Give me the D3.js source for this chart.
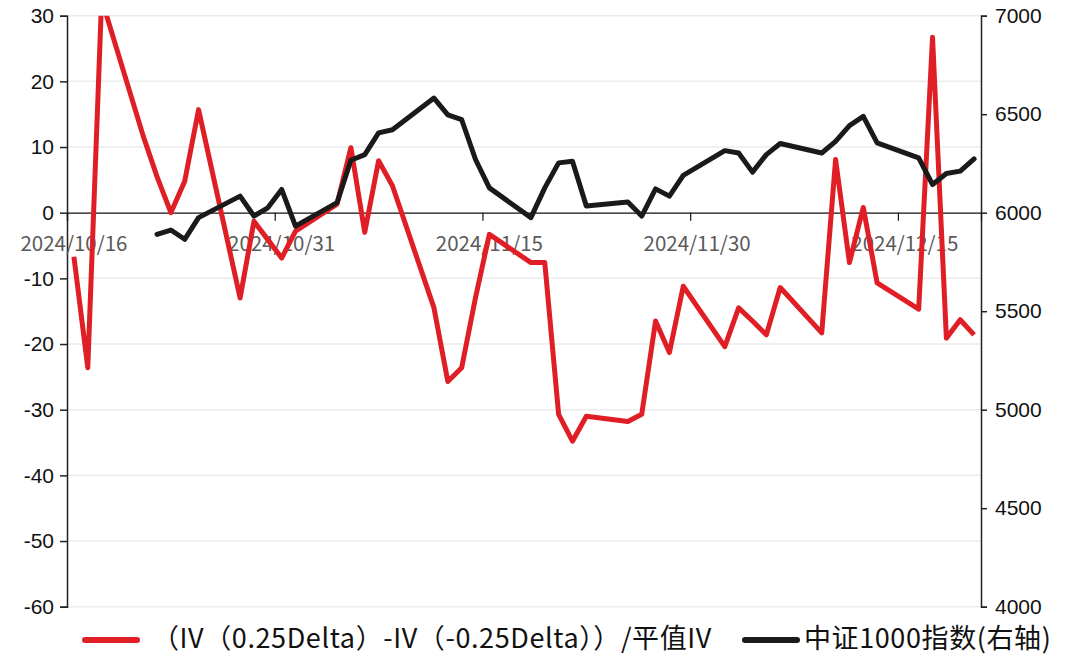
<!DOCTYPE html>
<html>
<head>
<meta charset="utf-8">
<script src="https://cdn.jsdelivr.net/npm/d3@7"></script>
<style>
  body { margin: 0; background: #fff; }
  svg { display: block; font-family: "Noto Sans CJK SC", "Noto Sans", sans-serif; }
</style>
</head>
<body>
<div id="chart"></div>
<script>
// trading days shown on the chart
var trade_dates = [
  "2024/10/16","2024/10/17","2024/10/18","2024/10/21","2024/10/22","2024/10/23","2024/10/24","2024/10/25",
  "2024/10/28","2024/10/29","2024/10/30","2024/10/31","2024/11/01",
  "2024/11/04","2024/11/05","2024/11/06","2024/11/07","2024/11/08",
  "2024/11/11","2024/11/12","2024/11/13","2024/11/14","2024/11/15",
  "2024/11/18","2024/11/19","2024/11/20","2024/11/21","2024/11/22",
  "2024/11/25","2024/11/26","2024/11/27","2024/11/28","2024/11/29",
  "2024/12/02","2024/12/03","2024/12/04","2024/12/05","2024/12/06",
  "2024/12/09","2024/12/10","2024/12/11","2024/12/12","2024/12/13",
  "2024/12/16","2024/12/17","2024/12/18","2024/12/19","2024/12/20"
];

// (IV(0.25Delta) - IV(-0.25Delta)) / ATM IV, left axis
var skew_values = [
  -6.7, -23.6, 32.5, 11.7, 5.5, 0.0, 4.8, 15.7,
  -13.0, -1.3, -4.1, -6.9, -2.8,
  1.3, 9.9, -3.0, 7.9, 4.1,
  -14.5, -25.7, -23.6, -12.9, -3.3,
  -7.6, -7.6, -30.7, -34.8, -31.0,
  -31.8, -30.7, -16.5, -21.3, -11.2,
  -20.4, -14.5, -16.5, -18.6, -11.4,
  -18.3, 8.1, -7.6, 0.8, -10.7,
  -14.7, 26.7, -19.1, -16.3, -18.6
];

// CSI 1000 index close, right axis (no data for first days)
var csi1000_values = [
  null, null, null, null, 5890, 5912, 5865, 5975,
  6084, 5983, 6025, 6118, 5932,
  6051, 6266, 6295, 6405, 6421,
  6582, 6497, 6472, 6270, 6126,
  5975, 6126, 6253, 6261, 6034,
  6054, 5983, 6121, 6084, 6189,
  6315, 6303, 6206, 6295, 6351,
  6303, 6362, 6442, 6489, 6354,
  6278, 6143, 6199, 6211, 6273
];

var left_ticks = [30, 20, 10, 0, -10, -20, -30, -40, -50, -60];
var right_ticks = [7000, 6500, 6000, 5500, 5000, 4500, 4000];
var date_ticks = ["2024/10/16", "2024/10/31", "2024/11/15", "2024/11/30", "2024/12/15"];

var legend_names = ["（IV（0.25Delta）-IV（-0.25Delta））/平值IV", "中证1000指数(右轴)"];

var red = "#e01e25";
var black = "#1a1a1a";

var width = 1084, height = 656;
var plot = { left: 67, right: 981, top: 15.7, bottom: 606.7 };

var parse = d3.timeParse("%Y/%m/%d");
var day_ms = 24 * 3600 * 1000;
// plain hyphen minus, no thousands separator
var plain = function(v) { return String(v); };

var svg = d3.select("#chart").append("svg")
    .attr("width", width)
    .attr("height", height);

// x: one slot per calendar day, points sit in the middle of the day
var x = d3.scaleTime()
    .domain([parse("2024/10/16"), parse("2024/12/21")])
    .range([plot.left, plot.right]);
var y_left = d3.scaleLinear().domain([-60, 30]).range([plot.bottom, plot.top]);
var y_right = d3.scaleLinear().domain([4000, 7000]).range([plot.bottom, plot.top]);

var rows = trade_dates.map(function(d, i) {
  return { date: new Date(+parse(d) + day_ms / 2), skew: skew_values[i], idx: csi1000_values[i] };
});

// gridlines
svg.append("g")
    .selectAll("line")
    .data(left_ticks.filter(function(t) { return t !== 0; }))
  .enter().append("line")
    .attr("x1", plot.left).attr("x2", plot.right)
    .attr("y1", function(t) { return y_left(t); })
    .attr("y2", function(t) { return y_left(t); })
    .attr("stroke", "#ebebeb")
    .attr("stroke-width", 1.5);

// left axis
var left_axis = svg.append("g")
    .attr("transform", "translate(" + plot.left + ",0)")
    .call(d3.axisLeft(y_left).tickValues(left_ticks).tickFormat(plain).tickSize(7).tickPadding(6));
left_axis.selectAll("text").attr("font-size", 21).attr("fill", "#111");

// right axis
var right_axis = svg.append("g")
    .attr("transform", "translate(" + plot.right + ",0)")
    .call(d3.axisRight(y_right).tickValues(right_ticks).tickFormat(plain).tickSize(6).tickPadding(8));
right_axis.selectAll("text").attr("font-size", 21).attr("fill", "#111");

[left_axis, right_axis].forEach(function(a) {
  a.select(".domain").attr("stroke", "#222").attr("stroke-width", 1.5);
  a.selectAll(".tick line").attr("stroke", "#222").attr("stroke-width", 1.5);
});

// date axis sits on the zero line
var x_axis = svg.append("g")
    .attr("transform", "translate(0," + y_left(0) + ")")
    .call(d3.axisBottom(x).tickValues(date_ticks.map(parse)).tickSize(8).tickFormat(""));
x_axis.select(".domain").attr("stroke", "#111").attr("stroke-width", 1.2);
x_axis.selectAll(".tick line").attr("stroke", "#111").attr("stroke-width", 1.2);

svg.append("g")
    .selectAll("text")
    .data(date_ticks)
  .enter().append("text")
    .attr("x", function(d) { return x(new Date(+parse(d) + day_ms / 2)); })
    .attr("y", y_left(0) + 38)
    .attr("text-anchor", "middle")
    .attr("font-size", 20.5)
    .attr("fill", "#5a5a5a")
    .text(function(d) { return d; });

// clip the lines to the plot area
svg.append("clipPath").attr("id", "plot_clip")
  .append("rect")
    .attr("x", plot.left).attr("y", plot.top)
    .attr("width", plot.right - plot.left)
    .attr("height", plot.bottom - plot.top);

var skew_line = d3.line()
    .x(function(d) { return x(d.date); })
    .y(function(d) { return y_left(d.skew); });

var idx_line = d3.line()
    .defined(function(d) { return d.idx != null; })
    .x(function(d) { return x(d.date); })
    .y(function(d) { return y_right(d.idx); });

var lines = svg.append("g").attr("clip-path", "url(#plot_clip)");

lines.append("path")
    .datum(rows)
    .attr("d", skew_line)
    .attr("fill", "none")
    .attr("stroke", red)
    .attr("stroke-width", 5)
    .attr("stroke-linejoin", "round");

lines.append("path")
    .datum(rows)
    .attr("d", idx_line)
    .attr("fill", "none")
    .attr("stroke", black)
    .attr("stroke-width", 5)
    .attr("stroke-linejoin", "round")
    .attr("stroke-linecap", "round");

// legend
var legend_items = [
  { name: legend_names[0], color: red, x0: 85, tx: 152 },
  { name: legend_names[1], color: black, x0: 745, tx: 804 }
];
var legend = svg.append("g").attr("transform", "translate(0,640)");
legend_items.forEach(function(item) {
  legend.append("line")
      .attr("x1", item.x0).attr("x2", item.x0 + 52)
      .attr("y1", 0).attr("y2", 0)
      .attr("stroke", item.color)
      .attr("stroke-width", 6)
      .attr("stroke-linecap", "round");
  legend.append("text")
      .attr("x", item.tx)
      .attr("y", 8)
      .attr("font-size", 27)
      .attr("letter-spacing", 0.6)
      .attr("fill", "#111")
      .text(item.name);
});
</script>
</body>
</html>
